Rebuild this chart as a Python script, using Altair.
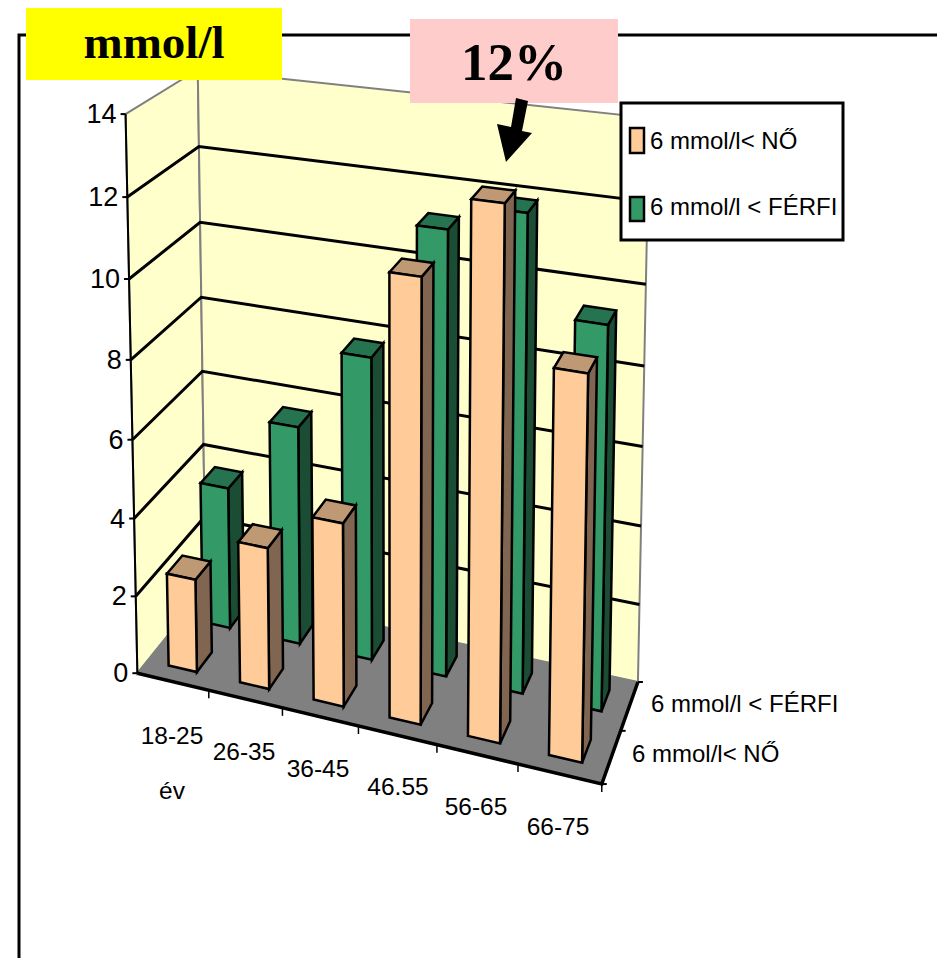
import altair as alt
import numpy as np

# ---- data ----
categories = ["18-25", "26-35", "36-45", "46.55", "56-65", "66-75"]
women = [2.4, 3.6, 4.6, 10.85, 12.8, 9.2]
men = [3.75, 5.7, 7.8, 11.25, 11.9, 9.5]
series_labels = ["6 mmol/l< NŐ", "6 mmol/l < FÉRFI"]
value_ticks = [0, 2, 4, 6, 8, 10, 12, 14]

W, H = 929, 950
SANS = "Liberation Sans"
SERIF = "Liberation Serif"

# ---- 3D camera (x: category, y: value, z: series depth) calibrated on the chart box ----
calib = [
    ((0, 0, 0), (138, 672)), ((6, 0, 0), (601, 786)), ((6, 0, 2), (638, 680)), ((0, 0, 2), (205, 590)),
    ((0, 14, 0), (125, 114)), ((0, 14, 2), (198, 70)), ((6, 14, 2), (650, 119)),
    ((2, 0, 0), (283, 707)), ((4, 0, 0), (437, 745)),
    ((0, 12, 2), (199, 146)), ((6, 10, 2), (645, 283)), ((6, 2, 2), (640, 605)),
]
A = []
for (a, b, c), (u, v) in calib:
    A.append([a, b, c, 1, 0, 0, 0, 0, -u * a, -u * b, -u * c, -u])
    A.append([0, 0, 0, 0, a, b, c, 1, -v * a, -v * b, -v * c, -v])
P = np.linalg.svd(np.array(A, float))[2][-1].reshape(3, 4)


def pr(x, y, z):
    q = P @ np.array([x, y, z, 1.0])
    return [float(q[0] / q[2]), float(q[1] / q[2])]


def poly(pts, fill, stroke="#000000", sw=2.5):
    return {"type": "Feature",
            "geometry": {"type": "Polygon", "coordinates": [pts + [pts[0]]]},
            "properties": {"fill": fill, "stroke": stroke, "sw": sw}}


def line(pts, stroke="#000000", sw=3):
    return {"type": "Feature",
            "geometry": {"type": "LineString", "coordinates": pts},
            "properties": {"fill": "none", "stroke": stroke, "sw": sw}}


GX, GZ = 0.30, 0.28
shapes = []
# walls and floor
shapes.append(poly([pr(0, 0, 0), pr(0, 14, 0), pr(0, 14, 2), pr(0, 0, 2)], "#FFFFCC", "#808080", 2))
shapes.append(poly([pr(0, 0, 2), pr(0, 14, 2), pr(6, 14, 2), pr(6, 0, 2)], "#FFFFCC", "#808080", 2))
shapes.append(poly([pr(0, 0, 0), pr(6, 0, 0), pr(6, 0, 2), pr(0, 0, 2)], "#808080", "#808080", 1))
# gridlines
for t in value_ticks[1:-1]:
    shapes.append(line([pr(0, t, 0), pr(0, t, 2), pr(6, t, 2)]))


def bar(i, depth, val, front, side, top):
    x0, x1 = i + GX, i + 1 - GX
    z0, z1 = depth + GZ, depth + 1 - GZ
    shapes.append(poly([pr(x1, 0, z0), pr(x1, val, z0), pr(x1, val, z1), pr(x1, 0, z1)], side))
    shapes.append(poly([pr(x0, val, z0), pr(x1, val, z0), pr(x1, val, z1), pr(x0, val, z1)], top))
    shapes.append(poly([pr(x0, 0, z0), pr(x1, 0, z0), pr(x1, val, z0), pr(x0, val, z0)], front))


for i, v in enumerate(men):
    bar(i, 1, v, "#339966", "#1A4D33", "#267350")
for i, v in enumerate(women):
    bar(i, 0, v, "#FFCC99", "#806650", "#BF9973")

# axes
shapes.append(line([pr(0, 14, 0), pr(0, 0, 0)], sw=2))
shapes.append(line([pr(0, 0, 0), pr(6, 0, 0), pr(6, 0, 2)], sw=3.5))
for t in value_ticks:
    a = pr(0, t, 0)
    shapes.append(line([[a[0] - 5, a[1]], a], sw=2))
for i in range(1, 7):
    a = pr(i, 0, 0)
    shapes.append(line([a, [a[0], a[1] + 8]], sw=1.5))
for d in range(0, 3):
    a = pr(6, 0, d)
    shapes.append(line([a, [a[0] + 5, a[1]]], sw=2))

# frame
shapes.append(line([[19, 960], [19, 35], [945, 35]], sw=3))
# annotation boxes
shapes.append(poly([[26, 3], [282, 3], [282, 80], [26, 80]], "#FFFF00", "none", 0))
shapes.append(poly([[410, 19], [618, 19], [618, 103], [410, 103]], "#FFCCCC", "none", 0))
shapes.append(poly([[516, 98], [528, 101], [522, 131], [532, 133], [506, 162], [497, 124], [511, 127]],
                   "#000000", "none", 0))
# legend
shapes.append(poly([[621, 103], [843, 103], [843, 240], [621, 240]], "#FFFFFF", "#000000", 3))
shapes.append(poly([[630, 128], [644, 128], [644, 153], [630, 153]], "#FFCC99", "#000000", 2.5))
shapes.append(poly([[630, 197], [644, 197], [644, 221], [630, 221]], "#339966", "#000000", 2.5))

geo = alt.Chart(alt.Data(values=shapes)).mark_geoshape().encode(
    fill=alt.Fill("properties.fill:N", scale=None),
    stroke=alt.Stroke("properties.stroke:N", scale=None),
    strokeWidth=alt.StrokeWidth("properties.sw:Q", scale=None),
).project(type="identity", scale=1, translate=[-8, -8])

X = alt.X("x:Q", scale=alt.Scale(domain=[8, 8 + W], range=[0, W]), axis=None)
Y = alt.Y("y:Q", scale=alt.Scale(domain=[8, 8 + H], range=[0, H]), axis=None)


def texts(rows, **mark):
    return alt.Chart(alt.Data(values=rows)).mark_text(baseline="middle", color="#000000", **mark).encode(
        x=X, y=Y, text="t:N")


ytick_rows = [{"x": pr(0, t, 0)[0] - 9, "y": pr(0, t, 0)[1] + 1, "t": str(t)} for t in value_ticks]
x_pos = [(172, 737), (244, 753), (318, 770), (398, 788), (476, 808), (558, 828)]
xtick_rows = [{"x": p[0], "y": p[1], "t": c} for c, p in zip(categories, x_pos)]
xtick_rows.append({"x": 172, "y": 792, "t": "év"})
side_rows = [{"x": 651, "y": 705, "t": series_labels[1]}, {"x": 632, "y": 755, "t": series_labels[0]},
             {"x": 650, "y": 142, "t": series_labels[0]}, {"x": 650, "y": 208, "t": series_labels[1]}]

layers = [
    geo,
    texts(ytick_rows, font=SANS, fontSize=27, align="right"),
    texts(xtick_rows, font=SANS, fontSize=24.5, align="center"),
    texts(side_rows, font=SANS, fontSize=24, align="left"),
    texts([{"x": 154, "y": 44, "t": "mmol/l"}], font=SERIF, fontSize=47, fontWeight="bold", align="center"),
    texts([{"x": 514, "y": 64, "t": "12%"}], font=SERIF, fontSize=53, fontWeight="bold", align="center"),
]

chart = alt.layer(*layers).properties(
    width=W, height=H, padding=0, background="#FFFFFF"
).configure_view(stroke=None)

chart.save("out.html", embed_options={"renderer": "svg", "actions": False})
